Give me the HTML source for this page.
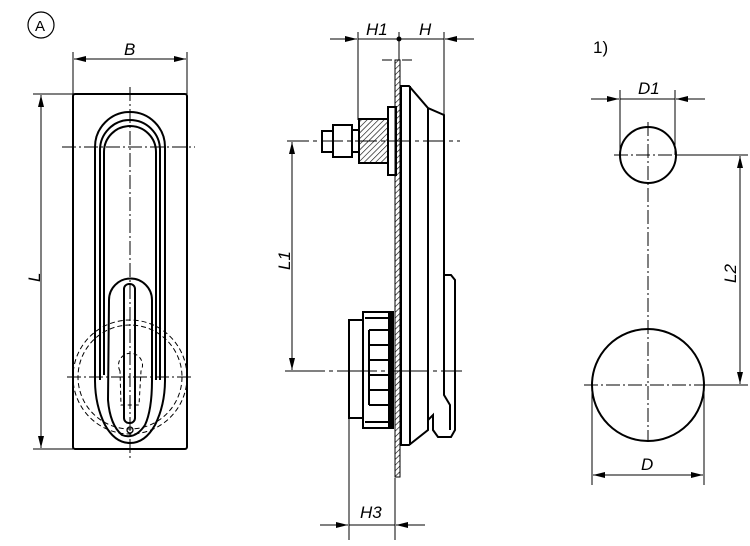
<!DOCTYPE html><html><head><style>body{margin:0;background:#fff}svg{display:block}text{font-family:"Liberation Sans",sans-serif;font-style:italic;font-size:17px;fill:#000}</style></head><body>
<svg width="750" height="546" viewBox="0 0 750 546" xmlns="http://www.w3.org/2000/svg">
<defs>
<marker id="a" viewBox="0 0 12 6" refX="12" refY="3" markerWidth="12" markerHeight="6" orient="auto-start-reverse" markerUnits="userSpaceOnUse"><path d="M0,0L12,3L0,6z"/></marker>
<pattern id="h" width="4" height="4" patternUnits="userSpaceOnUse" patternTransform="rotate(45)"><line x1="0" y1="0" x2="0" y2="4" stroke="#000" stroke-width="1.2"/></pattern>
</defs>
<g fill="none" stroke="#000">
<circle cx="41" cy="25" r="13" stroke-width="1.2"/>
<rect x="73" y="94" width="114" height="355" rx="2" stroke-width="2"/>
<g stroke-width="1"><line x1="73" y1="52" x2="73" y2="94"/><line x1="187" y1="52" x2="187" y2="94"/>
<line x1="74" y1="59" x2="186" y2="59" marker-start="url(#a)" marker-end="url(#a)"/>
<line x1="33" y1="94" x2="73" y2="94"/><line x1="33" y1="449" x2="73" y2="449"/>
<line x1="41" y1="95" x2="41" y2="448" marker-start="url(#a)" marker-end="url(#a)"/>
<line x1="130" y1="87" x2="130" y2="458" stroke-dasharray="14,3,2,3"/>
<line x1="62" y1="147" x2="195" y2="147" stroke-dasharray="14,3,2,3"/>
<line x1="67" y1="377" x2="193" y2="377" stroke-dasharray="14,3,2,3"/>
<circle cx="130" cy="377" r="57" stroke-dasharray="5,3"/>
<circle cx="130" cy="377" r="52" stroke-dasharray="5,3"/>
<path d="M120,371 A12,12 0 1 1 141,371 L139,405 L121,405 Z" stroke-dasharray="4,3"/>
</g>
<g stroke-width="2">
<path d="M95,147 A35,35 0 0 1 165,147 L165,380 Q165,405 155,425 Q145,443 130,443 Q115,443 105,425 Q95,405 95,380 Z"/>
<path d="M100,150 A30,30 0 0 1 160,150 L160,380"/>
<path d="M104,152 A26,26 0 0 1 156,152 L156,380"/>
<path d="M100,150 L100,380 M104,152 L104,375"/>
<path d="M109,300 A21,21 0 0 1 152,300 L152,380 Q152,410 145,425 Q135,440 122,435 Q110,425 108,400 Z"/>
<rect x="124" y="284" width="11" height="139" rx="5"/>
</g>
<circle cx="130" cy="430" r="3" stroke-width="1.3"/>

<g stroke-width="1">
<line x1="358" y1="32" x2="358" y2="120"/><line x1="399" y1="32" x2="399" y2="60"/><line x1="444" y1="32" x2="444" y2="115"/>
<line x1="330" y1="39" x2="357" y2="39" marker-end="url(#a)"/>
<line x1="474" y1="39" x2="445" y2="39" marker-end="url(#a)"/>
<line x1="358" y1="39" x2="444" y2="39"/>
<line x1="382" y1="60" x2="392" y2="60"/><line x1="402" y1="60" x2="412" y2="60"/>
<line x1="287" y1="141" x2="460" y2="141" stroke-dasharray="22,4,4,4"/>
<line x1="285" y1="371" x2="462" y2="371" stroke-dasharray="40,4,4,4"/>
<line x1="292" y1="142" x2="292" y2="370" marker-start="url(#a)" marker-end="url(#a)"/>
<line x1="349" y1="418" x2="349" y2="540"/><line x1="395" y1="478" x2="395" y2="540"/>
<line x1="320" y1="525" x2="348" y2="525" marker-end="url(#a)"/>
<line x1="425" y1="525" x2="396" y2="525" marker-end="url(#a)"/>
<line x1="349" y1="525" x2="395" y2="525"/>
</g>
<circle cx="399" cy="39" r="2" fill="#000"/>
<rect x="395" y="60" width="5" height="417" fill="url(#h)" stroke-width="1"/>
<g stroke-width="2">
<path d="M401,86 L409,86 L428,108 L444,115 L444,275 L451,275 L455,280 L455,430 L451,437 L438,437 L433,430 L433,415 L428,420 L428,430 L409,445 L401,445 Z"/>
<line x1="410" y1="86" x2="410" y2="445"/><line x1="428" y1="108" x2="428" y2="420"/>
<path d="M444,275 L444,395 L450,405 L450,430"/>
<rect x="388" y="107" width="8" height="68"/>
<rect x="359" y="119" width="29" height="44" fill="url(#h)"/>
<rect x="333" y="125" width="19" height="32"/>
<rect x="352" y="130" width="7" height="22"/>
<rect x="322" y="131" width="11" height="21"/>
<rect x="349" y="320" width="14" height="98"/>
<rect x="363" y="312" width="29" height="116"/>
<path d="M365,318 H390 M365,422 H390 M369,330 H390 M369,345 H390 M369,360 H390 M369,375 H390 M369,390 H390 M369,405 H390 M369,330 V405"/>
<rect x="389" y="312" width="4" height="116" fill="#000"/>
</g>

<g stroke-width="1">
<line x1="648" y1="122" x2="648" y2="440" stroke-dasharray="14,3,2,3"/>
<line x1="614" y1="155" x2="682" y2="155" stroke-dasharray="14,3,2,3"/>
<line x1="584" y1="385" x2="712" y2="385" stroke-dasharray="14,3,2,3"/>
<line x1="620" y1="90" x2="620" y2="155"/><line x1="675" y1="90" x2="675" y2="155"/>
<line x1="591" y1="99" x2="619" y2="99" marker-end="url(#a)"/>
<line x1="705" y1="99" x2="676" y2="99" marker-end="url(#a)"/>
<line x1="620" y1="99" x2="675" y2="99"/>
<line x1="592" y1="385" x2="592" y2="485"/><line x1="704" y1="385" x2="704" y2="485"/>
<line x1="593" y1="475" x2="703" y2="475" marker-start="url(#a)" marker-end="url(#a)"/>
<line x1="676" y1="155" x2="748" y2="155"/><line x1="704" y1="385" x2="748" y2="385"/>
<line x1="740" y1="156" x2="740" y2="384" marker-start="url(#a)" marker-end="url(#a)"/>
</g>
<circle cx="648" cy="155" r="28" stroke-width="2"/>
<circle cx="648" cy="385" r="56" stroke-width="2"/>
</g>
<text x="35" y="31" style="font-style:normal;font-size:15px">A</text>
<text x="124" y="55">B</text>
<text transform="translate(40,282) rotate(-90)">L</text>
<text x="366" y="35">H1</text>
<text x="419" y="35">H</text>
<text transform="translate(290,270) rotate(-90)">L1</text>
<text x="360" y="518">H3</text>
<text x="593" y="53" style="font-style:normal">1)</text>
<text x="638" y="94">D1</text>
<text x="641" y="470">D</text>
<text transform="translate(736,283) rotate(-90)">L2</text>
</svg>
</body></html>
